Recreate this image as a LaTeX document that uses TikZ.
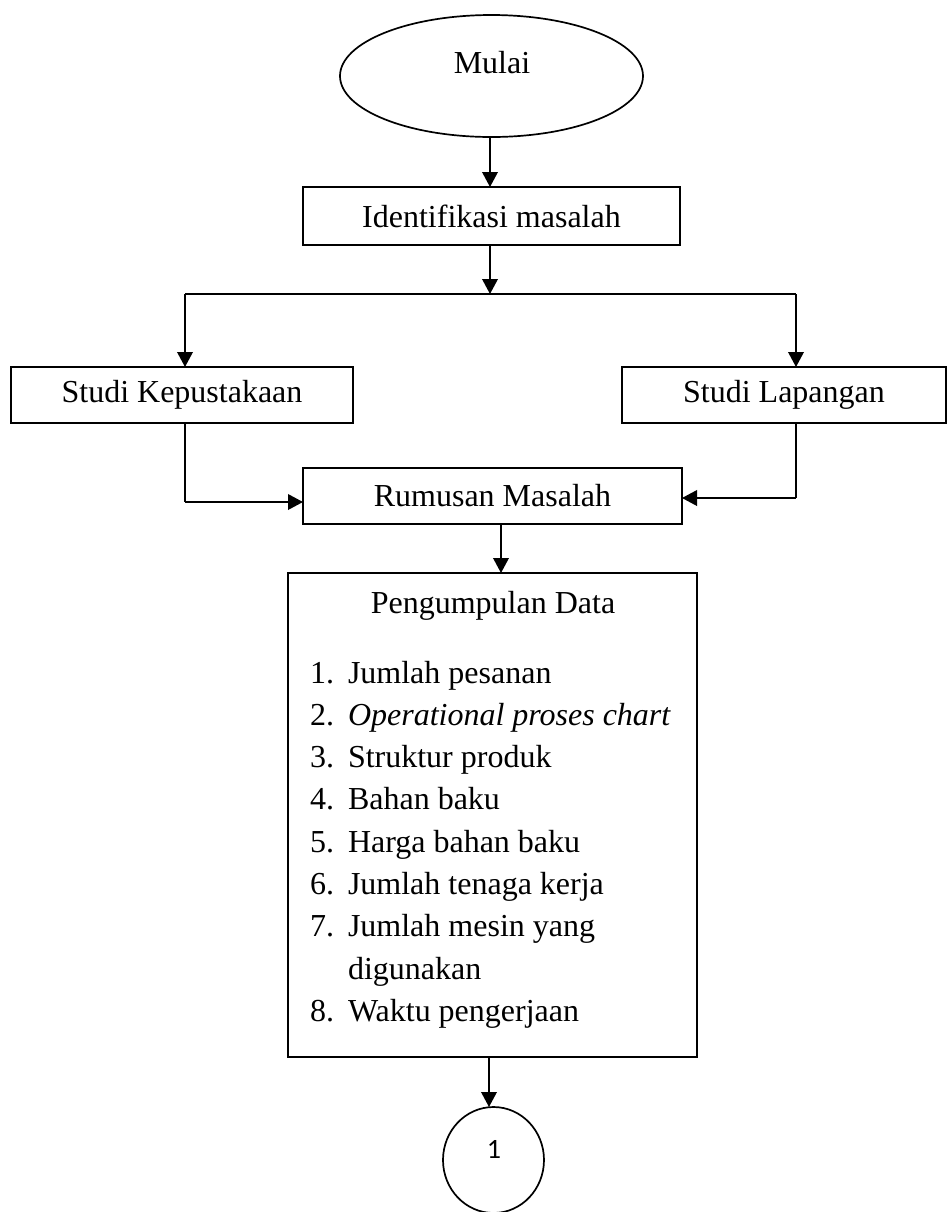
\documentclass[tikz,border=0pt]{standalone}
\usepackage{fontspec}
\setmainfont{Liberation Serif}
\newfontfamily\connfont{Carlito}
\usetikzlibrary{arrows.meta,shapes.geometric}
\begin{document}
\begin{tikzpicture}[x=0.5pt,y=-0.5pt,
  every node/.style={inner sep=0pt,outer sep=0pt},
  txt/.style={font=\fontsize{16pt}{21pt}\selectfont},
  box/.style={draw,line width=0.85pt,rectangle,minimum height=28pt},
  ln/.style={line width=0.85pt},
  thinln/.style={line width=0.6pt},
  arr/.style={-{Triangle[length=7.5pt,width=7.8pt]}}
]
\useasboundingbox (0,0) rectangle (950,1212);
% shapes
\node[draw,ln,ellipse,minimum width=151.5pt,minimum height=61pt] (start) at (491.5,76) {};
\node[txt] (startlbl) at (492,63) {Mulai};
\node[box,txt,minimum width=188.5pt,minimum height=29pt] (ident) at (491.5,216) {Identifikasi masalah};
\node[box,txt,minimum width=171pt] (studiK) at (182,395) {Studi Kepustakaan};
\node[box,txt,minimum width=162pt] (studiL) at (784,395) {Studi Lapangan};
\node[box,txt,minimum width=189.5pt] (rumus) at (492.5,496) {Rumusan Masalah};
\node[box,minimum width=204.5pt,minimum height=242pt] (data) at (492.5,815) {};
\node[txt,anchor=base] (datattl) at (493,613) {Pengumpulan Data};
\foreach \n/\t [count=\k from 0] in {1./Jumlah pesanan,2./\textit{Operational proses chart},3./Struktur produk,4./Bahan baku,5./Harga bahan baku,6./Jumlah tenaga kerja,7./Jumlah mesin yang,/digunakan,8./Waktu pengerjaan}{
  \node[txt,anchor=base west] (num\k) at (310,683+42.3*\k) {\n};
  \node[txt,anchor=base west] (item\k) at (348,683+42.3*\k) {\t};
}
\node[draw,ln,ellipse,minimum width=50.5pt,minimum height=53pt] (conn) at (493.5,1160) {};
\node[font=\connfont\fontsize{14pt}{16pt}\selectfont] (connlbl) at (494,1149) {1};
% connectors
\coordinate (bm) at (490,294);
\coordinate (bl) at (185,294);
\coordinate (br) at (796,294);
\coordinate (kl) at (185,502);
\coordinate (kr) at (796,498);
\coordinate (rd) at (501,0);
\coordinate (dc) at (489,0);
\draw[ln,arr] (start.south -| bm) -- (ident.north -| bm);
\draw[ln,arr] (ident.south -| bm) -- (bm);
\draw[ln] (bl) -- (br);
\draw[ln,arr] (bl) -- (bl |- studiK.north);
\draw[ln,arr] (br) -- (br |- studiL.north);
\draw[thinln] (bl |- studiK.south) -- (kl);
\draw[ln,arr] (kl) -- (kl -| rumus.west);
\draw[thinln] (br |- studiL.south) -- (kr);
\draw[ln,arr] (kr) -- (kr -| rumus.east);
\draw[ln,arr] (rumus.south -| rd) -- (data.north -| rd);
\draw[ln,arr] (data.south -| dc) -- (dc |- conn.north);
\end{tikzpicture}
\end{document}
